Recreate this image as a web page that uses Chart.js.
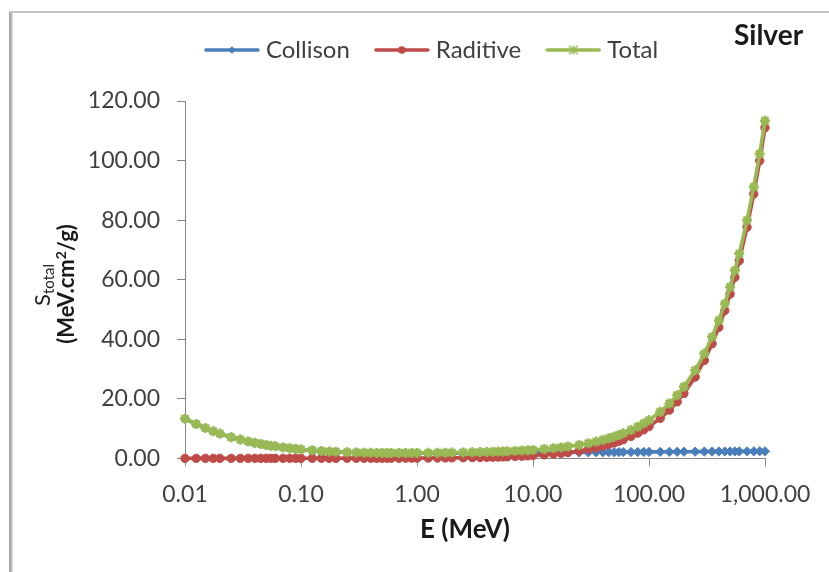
<!DOCTYPE html>
<html><head><meta charset="utf-8">
<script src="https://cdn.jsdelivr.net/npm/chart.js@4.4.0/dist/chart.umd.min.js"></script>
<style>html,body{margin:0;padding:0;background:#fff;overflow:hidden}#wrap{width:829px;height:572px;position:relative}</style>
</head><body><div id="wrap"><canvas id="c" width="829" height="572"></canvas></div>
<script>
// ---- data ----
const energies = [
  0.01, 0.0125, 0.015, 0.0175, 0.02, 0.025, 0.03, 0.035, 0.04, 0.045, 0.05, 0.055, 0.06, 0.07, 0.08, 0.09,
  0.1, 0.125, 0.15, 0.175, 0.2, 0.25, 0.3, 0.35, 0.4, 0.45, 0.5, 0.55, 0.6, 0.7, 0.8, 0.9,
  1, 1.25, 1.5, 1.75, 2, 2.5, 3, 3.5, 4, 4.5, 5, 5.5, 6, 7, 8, 9,
  10, 12.5, 15, 17.5, 20, 25, 30, 35, 40, 45, 50, 55, 60, 70, 80, 90,
  100, 125, 150, 175, 200, 250, 300, 350, 400, 450, 500, 550, 600, 700, 800, 900,
  1000
];
const collision = [
  13.3, 11.5, 10.15, 9.1, 8.3, 7.1, 6.3, 5.68, 5.2, 4.82, 4.5, 4.24, 4.02, 3.67, 3.4, 3.18,
  3.0, 2.68, 2.46, 2.3, 2.18, 2.02, 1.92, 1.86, 1.82, 1.79, 1.77, 1.76, 1.75, 1.74, 1.74, 1.74,
  1.74, 1.74, 1.75, 1.76, 1.77, 1.78, 1.80, 1.81, 1.82, 1.83, 1.84, 1.85, 1.86, 1.88, 1.89, 1.90,
  1.91, 1.94, 1.96, 1.98, 1.99, 2.02, 2.04, 2.06, 2.07, 2.09, 2.10, 2.11, 2.12, 2.14, 2.15, 2.17,
  2.18, 2.20, 2.22, 2.24, 2.25, 2.27, 2.29, 2.30, 2.31, 2.32, 2.33, 2.34, 2.35, 2.36, 2.37, 2.38,
  2.39
];
const radiative = [
  0.015, 0.016, 0.017, 0.017, 0.018, 0.019, 0.020, 0.020, 0.021, 0.021, 0.022, 0.022, 0.023, 0.024, 0.025, 0.026,
  0.027, 0.029, 0.031, 0.033, 0.035, 0.039, 0.043, 0.047, 0.051, 0.055, 0.059, 0.063, 0.067, 0.075, 0.083, 0.091,
  0.099, 0.12, 0.14, 0.16, 0.18, 0.23, 0.27, 0.31, 0.36, 0.41, 0.45, 0.50, 0.55, 0.65, 0.74, 0.84,
  0.95, 1.20, 1.46, 1.72, 1.98, 2.51, 3.04, 3.58, 4.12, 4.66, 5.20, 5.74, 6.29, 7.38, 8.48, 9.58,
  10.68, 13.45, 16.22, 19.0, 21.8, 27.3, 32.9, 38.5, 44.0, 49.6, 55.2, 60.8, 66.4, 77.6, 88.8, 99.9,
  111.0
];
const total = [
  13.32, 11.52, 10.17, 9.12, 8.32, 7.12, 6.32, 5.70, 5.22, 4.84, 4.52, 4.26, 4.04, 3.69, 3.43, 3.21,
  3.03, 2.71, 2.49, 2.33, 2.22, 2.06, 1.96, 1.91, 1.87, 1.85, 1.83, 1.82, 1.82, 1.82, 1.82, 1.83,
  1.84, 1.86, 1.89, 1.92, 1.95, 2.01, 2.07, 2.12, 2.18, 2.24, 2.29, 2.35, 2.41, 2.53, 2.63, 2.74,
  2.86, 3.14, 3.42, 3.70, 3.97, 4.53, 5.08, 5.64, 6.19, 6.75, 7.30, 7.85, 8.41, 9.52, 10.63, 11.75,
  12.86, 15.65, 18.44, 21.24, 24.05, 29.57, 35.19, 40.80, 46.31, 51.92, 57.53, 63.14, 68.75, 79.96, 91.17, 102.28,
  113.39
];
const seriesNames = ['Collison', 'Raditive', 'Total'];
const xTickValues = [0.01, 0.1, 1, 10, 100, 1000];
const xTickLabels = ['0.01', '0.10', '1.00', '10.00', '100.00', '1,000.00'];
const yTickValues = [0, 20, 40, 60, 80, 100, 120];
const yTickLabels = ['0.00', '20.00', '40.00', '60.00', '80.00', '100.00', '120.00'];
const chartTitle = 'Silver';
const xTitle = 'E (MeV)';

// ---- style ----
const FONT = 'Lato, "Liberation Sans", Arial, sans-serif';
const BLUE = '#4A7EBB', RED = '#BE4B48', GREEN = '#98B954';
const AXIS = '#868686', TXT = '#404040';

function drawMarker(ctx, type, x, y, r, color) {
  ctx.fillStyle = color; ctx.strokeStyle = color;
  if (type === 'diamond') {
    ctx.beginPath(); ctx.moveTo(x, y - r); ctx.lineTo(x + r, y); ctx.lineTo(x, y + r); ctx.lineTo(x - r, y); ctx.closePath(); ctx.fill();
  } else if (type === 'circle') {
    ctx.beginPath(); ctx.arc(x, y, r, 0, Math.PI * 2); ctx.fill();
  } else {
    ctx.lineWidth = 1.6; ctx.beginPath();
    ctx.moveTo(x - r, y - r); ctx.lineTo(x + r, y + r);
    ctx.moveTo(x + r, y - r); ctx.lineTo(x - r, y + r);
    ctx.moveTo(x, y - r); ctx.lineTo(x, y + r);
    ctx.stroke();
  }
}
function legendImage(color, type) {
  const c = document.createElement('canvas'); c.width = 56; c.height = 12;
  const g = c.getContext('2d');
  g.strokeStyle = color; g.lineWidth = 3.5; g.lineCap = 'round';
  g.beginPath(); g.moveTo(2, 6); g.lineTo(54, 6); g.stroke();
  drawMarker(g, type, 28, 6, 3.8, color);
  return c;
}
const legendImgs = [legendImage(BLUE, 'diamond'), legendImage(RED, 'circle'), legendImage(GREEN, 'star')];

const pts = (arr) => energies.map((e, i) => ({ x: e, y: arr[i] }));

const framePlugin = {
  id: 'frame',
  beforeDraw(chart) {
    const ctx = chart.ctx;
    ctx.save();
    ctx.fillStyle = '#fff'; ctx.fillRect(0, 0, chart.width, chart.height);
    const g = ctx.createLinearGradient(9, 0, 13, 0);
    g.addColorStop(0, '#9a9a9a'); g.addColorStop(0.5, '#b4b4b4'); g.addColorStop(1, '#e4e4e4');
    ctx.fillStyle = g; ctx.fillRect(9, 11, 4, chart.height - 11);
    ctx.fillStyle = '#c4c4c4'; ctx.fillRect(9, 11, chart.width - 9, 2);
    ctx.restore();
  },
  beforeLayout(chart) {
    const lg = chart.legend;
    if (lg && !lg._patched) {
      const f = lg.fit;
      lg.fit = function () { f.call(this); this.height += 29; };
      lg._patched = true;
    }
  },
  afterLayout(chart) {
    // widen the label clip box of the y axis so long tick labels are not cut
    if (chart.scales.y) chart.scales.y.left = 20;
  }
};
const textPlugin = {
  id: 'texts',
  afterDraw(chart) {
    const ctx = chart.ctx;
    ctx.save();
    ctx.fillStyle = '#1a1a1a';
    ctx.font = 'bold 28px ' + FONT;
    ctx.textBaseline = 'alphabetic'; ctx.textAlign = 'left';
    ctx.fillText(chartTitle, 734, 45);
    ctx.font = 'bold 26px ' + FONT; ctx.textAlign = 'center';
    ctx.fillText(xTitle, 465, 538);
    ctx.textAlign = 'left';
    ctx.save();
    ctx.translate(74, 284); ctx.rotate(-Math.PI / 2);
    const p1 = '(MeV.cm', p2 = '2', p3 = '/g)';
    ctx.font = 'bold 22px ' + FONT; const w1 = ctx.measureText(p1).width, w3 = ctx.measureText(p3).width;
    ctx.font = 'bold 14px ' + FONT; const w2 = ctx.measureText(p2).width;
    let x = -(w1 + w2 + w3) / 2;
    ctx.font = 'bold 22px ' + FONT; ctx.fillText(p1, x, 0); x += w1;
    ctx.font = 'bold 14px ' + FONT; ctx.fillText(p2, x, -8); x += w2;
    ctx.font = 'bold 22px ' + FONT; ctx.fillText(p3, x, 0);
    ctx.restore();
    ctx.save();
    ctx.translate(50, 285); ctx.rotate(-Math.PI / 2);
    ctx.font = '22px ' + FONT; const ws = ctx.measureText('S').width;
    ctx.font = '15px ' + FONT; const wt = ctx.measureText('total').width;
    let x2 = -(ws + wt) / 2;
    ctx.font = '22px ' + FONT; ctx.fillText('S', x2, 0); x2 += ws;
    ctx.font = '15px ' + FONT; ctx.fillText('total', x2, 4);
    ctx.restore();
    ctx.restore();
  }
};

const common = { borderWidth: 3.6, tension: 0, clip: false, pointBorderWidth: 1 };
new Chart(document.getElementById('c'), {
  type: 'line',
  data: {
    datasets: [
      Object.assign({ label: seriesNames[0], data: pts(collision), borderColor: BLUE, backgroundColor: BLUE,
        pointStyle: 'rectRot', pointRadius: 4.6, pointBackgroundColor: BLUE, pointBorderColor: BLUE, order: 3 }, common),
      Object.assign({ label: seriesNames[1], data: pts(radiative), borderColor: RED, backgroundColor: RED,
        pointStyle: 'circle', pointRadius: 4.2, pointBackgroundColor: RED, pointBorderColor: RED, order: 2 }, common),
      Object.assign({ label: seriesNames[2], data: pts(total), borderColor: GREEN, backgroundColor: GREEN,
        pointStyle: 'star', pointRadius: 5, pointBackgroundColor: GREEN, pointBorderColor: GREEN, order: 1 }, common, { pointBorderWidth: 2.6 })
    ]
  },
  options: {
    responsive: false, animation: false, events: [],
    layout: { padding: { left: 103, right: 64, top: 8, bottom: 50 } },
    plugins: {
      tooltip: { enabled: false },
      title: { display: false },
      legend: {
        display: true, position: 'top', align: 'center',
        labels: {
          usePointStyle: true, pointStyleWidth: 44, padding: 30,
          color: TXT, font: { family: FONT, size: 24 },
          generateLabels: (chart) => chart.data.datasets.map((ds, i) => ({
            text: ds.label, fillStyle: ds.borderColor, strokeStyle: ds.borderColor, lineWidth: 0,
            pointStyle: legendImgs[i], datasetIndex: i, hidden: false, fontColor: TXT
          }))
        }
      }
    },
    scales: {
      x: {
        type: 'logarithmic', min: 0.01, max: 1000,
        afterBuildTicks: (s) => { s.ticks = xTickValues.map(v => ({ value: v })); },
        ticks: {
          autoSkip: false, maxRotation: 0, minRotation: 0, padding: 14, color: TXT,
          font: { family: FONT, size: 23 },
          callback: (v) => xTickLabels[xTickValues.indexOf(v)]
        },
        grid: { drawOnChartArea: false, drawTicks: true, tickLength: 8, color: AXIS, lineWidth: 1 },
        border: { display: true, color: AXIS, width: 1 }
      },
      y: {
        type: 'linear', min: 0, max: 120,
        afterBuildTicks: (s) => { s.ticks = yTickValues.map(v => ({ value: v })); },
        afterFit: (s) => { s.width = 82; },
        ticks: {
          padding: 17, color: TXT, font: { family: FONT, size: 23 },
          callback: (v) => yTickLabels[yTickValues.indexOf(v)]
        },
        grid: { drawOnChartArea: false, drawTicks: true, tickLength: 8, color: AXIS, lineWidth: 1 },
        border: { display: true, color: AXIS, width: 1 }
      }
    }
  },
  plugins: [framePlugin, textPlugin]
});
</script>
</body></html>
